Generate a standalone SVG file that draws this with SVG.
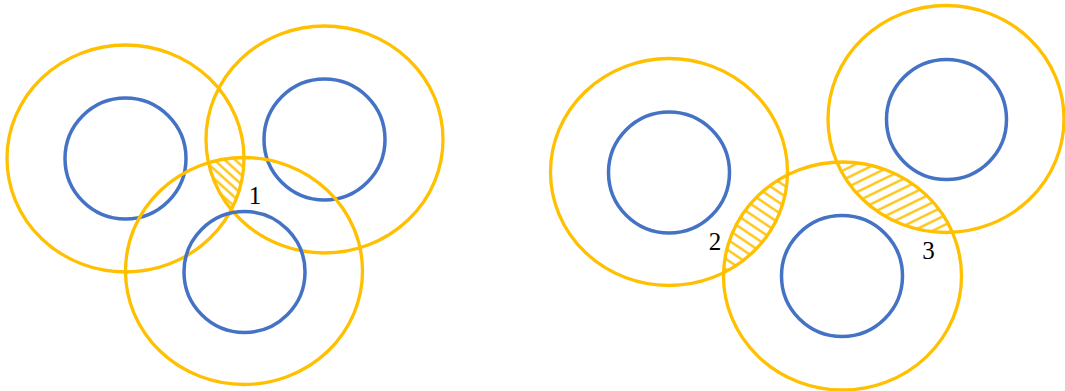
<svg xmlns="http://www.w3.org/2000/svg" width="1065" height="391" viewBox="0 0 1065 391">
<style>
.outer{fill:none;stroke:#FFC000;stroke-width:3.3}
.inner{fill:none;stroke:#4472C4;stroke-width:3.5}
.lbl{font-family:"Liberation Serif","Times New Roman",serif;font-size:25px;fill:#000;text-anchor:middle}
.hl{stroke:#FFC000;stroke-width:2.2}
</style>
<defs>
<pattern id="h1" patternUnits="userSpaceOnUse" width="20" height="7" patternTransform="rotate(42)"><line class="hl" x1="0" y1="3.5" x2="20" y2="3.5"/></pattern>
<pattern id="h2" patternUnits="userSpaceOnUse" width="20" height="8.5" patternTransform="rotate(34)"><line class="hl" x1="0" y1="4.25" x2="20" y2="4.25"/></pattern>
<pattern id="h3" patternUnits="userSpaceOnUse" width="20" height="8.5" patternTransform="rotate(-26)"><line class="hl" x1="0" y1="4.25" x2="20" y2="4.25"/></pattern>
<clipPath id="cA"><ellipse cx="125.5" cy="158.5" rx="118.5" ry="113.5"/></clipPath>
<clipPath id="cB"><ellipse cx="324.5" cy="139.5" rx="118.5" ry="113.5"/></clipPath>
<clipPath id="cC"><ellipse cx="244" cy="271" rx="118.5" ry="113.5"/></clipPath>
<clipPath id="cD"><ellipse cx="669" cy="172" rx="118.5" ry="113.5"/></clipPath>
<clipPath id="cE"><ellipse cx="946" cy="119" rx="118" ry="113.5"/></clipPath>
<clipPath id="cF"><ellipse cx="842.5" cy="276" rx="119" ry="114"/></clipPath>
</defs>
<rect width="1065" height="391" fill="#fff"/>
<g id="hatches">
<g clip-path="url(#cA)"><g clip-path="url(#cB)"><rect x="150" y="100" width="150" height="150" fill="url(#h1)" clip-path="url(#cC)"/></g></g>
<g clip-path="url(#cD)"><rect x="700" y="150" width="120" height="150" fill="url(#h2)" clip-path="url(#cF)"/></g>
<g clip-path="url(#cE)"><rect x="800" y="140" width="180" height="120" fill="url(#h3)" clip-path="url(#cF)"/></g>
</g>
<g id="nodeA"><ellipse class="outer" cx="125.5" cy="158.5" rx="118.5" ry="113.5"/><circle class="inner" cx="125.5" cy="158.5" r="60.5"/></g>
<g id="nodeB"><ellipse class="outer" cx="324.5" cy="139.5" rx="118.5" ry="113.5"/><circle class="inner" cx="324.5" cy="139.5" r="60.5"/></g>
<g id="nodeC"><ellipse class="outer" cx="244" cy="271" rx="118.5" ry="113.5"/><circle class="inner" cx="244.5" cy="272" r="60.5"/></g>
<g id="nodeD"><ellipse class="outer" cx="669" cy="172" rx="118.5" ry="113.5"/><circle class="inner" cx="669" cy="172.5" r="60.5"/></g>
<g id="nodeE"><ellipse class="outer" cx="946" cy="119" rx="118" ry="113.5"/><circle class="inner" cx="946.5" cy="119.5" r="60"/></g>
<g id="nodeF"><ellipse class="outer" cx="842.5" cy="276" rx="119" ry="114"/><circle class="inner" cx="842" cy="276" r="60.5"/></g>
<g id="connectors"/>
<g id="labels">
<text class="lbl" x="255" y="204">1</text>
<text class="lbl" x="715" y="250">2</text>
<text class="lbl" x="928.5" y="259">3</text>
</g>
</svg>
